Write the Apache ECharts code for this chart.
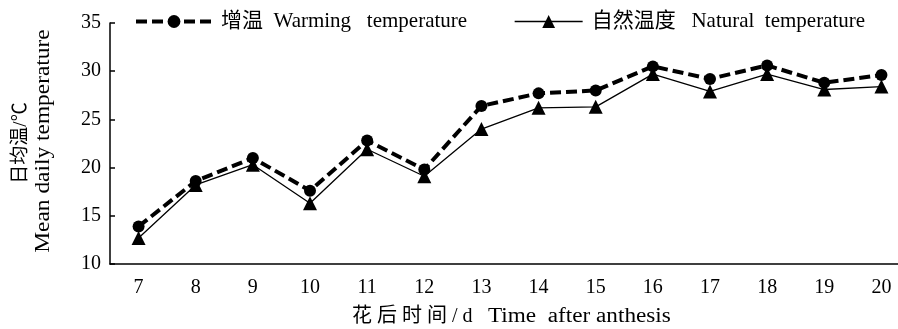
<!DOCTYPE html>
<html>
<head>
<meta charset="utf-8">
<script src="https://cdn.jsdelivr.net/npm/echarts@6/dist/echarts.min.js"></script>
<style>
html,body{margin:0;padding:0;background:#fff;}
#chart{width:898px;height:329px;}
</style>
</head>
<body>
<div id="chart"></div>
<script>
const categories = ['7','8','9','10','11','12','13','14','15','16','17','18','19','20'];
const warming = [13.9, 18.6, 21.0, 17.6, 22.8, 19.8, 26.4, 27.7, 28.0, 30.5, 29.2, 30.6, 28.8, 29.6];
const natural = [12.7, 18.2, 20.3, 16.3, 21.9, 19.1, 24.0, 26.2, 26.3, 29.7, 27.9, 29.7, 28.1, 28.4];
const yTicks = [10, 15, 20, 25, 30, 35];
const seriesNames = ['增温  Warming   temperature', '自然温度   Natural  temperature'];
const yTitleCn = '日均温/℃';
const yTitleEn = 'Mean daily temperature';
const xTitleCn = '花 后 时 间 / d';
const xTitleEn = 'Time  after anthesis';

const FONT = '"Liberation Serif", "Times New Roman", "Noto Sans CJK SC", serif';
const dashStyle = {color: '#000', width: 4, type: [11, 5]};
const solidStyle = {color: '#000', width: 1.3, type: 'solid'};
const legendText = {fontFamily: FONT, fontSize: 21, color: '#000', padding: [0, 0, 0, 4]};

const chart = echarts.init(document.getElementById('chart'), null, {renderer: 'canvas'});
chart.setOption({
  animation: false,
  backgroundColor: '#fff',
  textStyle: {fontFamily: FONT, color: '#000'},
  grid: {left: 110, top: 23, width: 800, height: 241, containLabel: false, outerBoundsMode: 'none'},
  legend: [
    {
      top: 11, left: 134, padding: 0, itemWidth: 76, itemHeight: 16,
      textStyle: legendText,
      data: [{name: seriesNames[0], lineStyle: dashStyle}]
    },
    {
      top: 11, left: 514, padding: 0, itemWidth: 68, itemHeight: 16,
      textStyle: legendText,
      data: [{name: seriesNames[1], lineStyle: solidStyle}]
    }
  ],
  xAxis: {
    type: 'category',
    data: categories,
    boundaryGap: true,
    axisLine: {lineStyle: {color: '#000', width: 1.5}},
    axisTick: {inside: true, length: 5, lineStyle: {color: '#000', width: 1.5}},
    axisLabel: {fontFamily: FONT, fontSize: 20, color: '#000', margin: 14},
    splitLine: {show: false}
  },
  yAxis: {
    type: 'value',
    min: yTicks[0], max: yTicks[yTicks.length-1], interval: 5,
    axisLine: {show: true, lineStyle: {color: '#000', width: 1.5}},
    axisTick: {show: true, inside: true, length: 5, lineStyle: {color: '#000', width: 1.5}},
    axisLabel: {fontFamily: FONT, fontSize: 20, color: '#000', margin: 9},
    splitLine: {show: false}
  },
  graphic: [
    {type: 'text', x: 21, y: 143, rotation: Math.PI/2,
     style: {text: yTitleCn, fontFamily: FONT, fontSize: 19, fill: '#000', align: 'center', verticalAlign: 'middle'}},
    {type: 'text', x: 44, y: 141, rotation: Math.PI/2, scaleX: 1.17,
     style: {text: yTitleEn, fontFamily: FONT, fontSize: 20, fill: '#000', align: 'center', verticalAlign: 'middle'}},
    {type: 'text', x: 352, y: 317,
     style: {text: xTitleCn, fontFamily: FONT, fontSize: 20, fill: '#000', align: 'left', verticalAlign: 'middle'}},
    {type: 'text', x: 488, y: 317, scaleX: 1.16,
     style: {text: xTitleEn, fontFamily: FONT, fontSize: 20, fill: '#000', align: 'left', verticalAlign: 'middle'}}
  ],
  series: [
    {
      name: seriesNames[0], type: 'line', data: warming,
      symbol: 'circle', symbolSize: 12,
      lineStyle: dashStyle,
      itemStyle: {color: '#000'},
      z: 3
    },
    {
      name: seriesNames[1], type: 'line', data: natural,
      symbol: 'triangle', symbolSize: 14,
      lineStyle: solidStyle,
      itemStyle: {color: '#000'},
      z: 2
    }
  ]
});
</script>
</body>
</html>
